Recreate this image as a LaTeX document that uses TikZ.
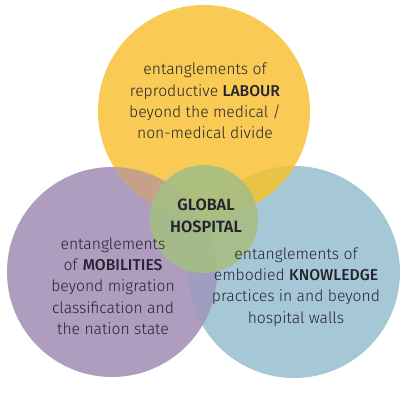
\documentclass[tikz,border=0pt]{standalone}
\usepackage{fontspec}
\setmainfont{Fira Sans Light}[BoldFont={Fira Sans Medium}]
\newfontfamily\semibd{Fira Sans SemiBold}
\definecolor{yl}{HTML}{F9CB55}
\definecolor{pu}{HTML}{AE9DBF}
\definecolor{bl}{HTML}{A6C8D6}
\definecolor{yp}{HTML}{C5A188}
\definecolor{yb}{HTML}{E8C346}
\definecolor{pb}{HTML}{9F9EC1}
\definecolor{gr}{HTML}{A5BE84}
\definecolor{tx}{HTML}{24232E}
\begin{document}
\begin{tikzpicture}[x=1pt,y=-1pt,
  disc/.style={circle,inner sep=0pt,draw=none},
  lbl/.style={align=center,text=tx,inner sep=0pt,font=\fontsize{15.7}{21.3}\selectfont}]
\useasboundingbox (0,0) rectangle (408,404);
\fill[white] (0,0) rectangle (408,404);
% main circles
\node[disc,minimum size=212pt,fill=bl] (know) at (294,272) {};
\node[disc,minimum size=210pt,fill=pu] (mob) at (112,272) {};
\node[disc,minimum size=212pt,fill=yl] (lab) at (204,111) {};
% overlaps
\begin{scope}
  \clip (204,111) circle[radius=106];
  \fill[yp] (112,272) circle[radius=105];
\end{scope}
\begin{scope}
  \clip (204,111) circle[radius=106];
  \fill[yb] (294,272) circle[radius=106];
\end{scope}
\begin{scope}
  \clip (112,272) circle[radius=105];
  \fill[pb] (294,272) circle[radius=106];
\end{scope}
% centre
\node[disc,minimum size=108pt,fill=gr,fill opacity=0.9] (glob) at (204,219) {};
% texts
\node[lbl] (labt) at (205,101) {entanglements of\\reproductive \textbf{LABOUR}\\beyond the medical /\\non-medical divide};
\node[lbl,font=\fontsize{16.3}{21.8}\selectfont\semibd] (globt) at (206,216) {GLOBAL\\HOSPITAL};
\node[lbl] (mobt) at (113,286) {entanglements\\of \textbf{MOBILITIES}\\beyond migration\\classification and\\the nation state};
\node[lbl] (knowt) at (296,287) {entanglements of\\embodied \textbf{KNOWLEDGE}\\practices in and beyond\\hospital walls};
\end{tikzpicture}
\end{document}
